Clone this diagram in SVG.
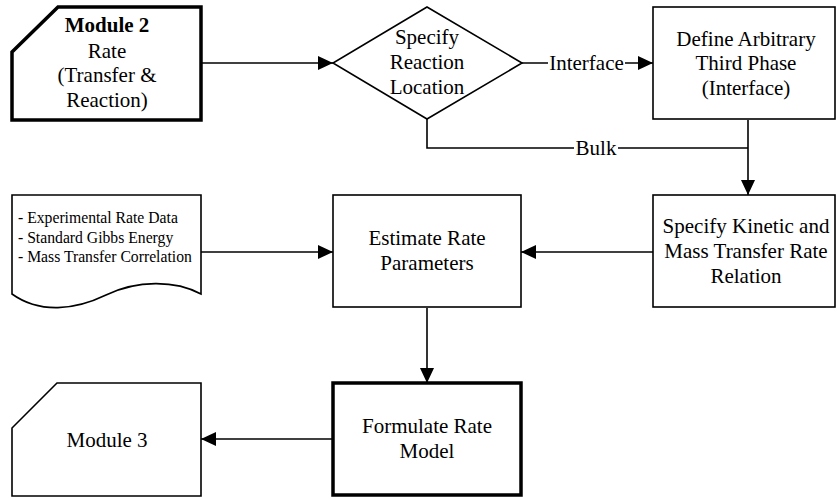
<svg xmlns="http://www.w3.org/2000/svg" width="837" height="499" viewBox="0 0 837 499" font-family="'Liberation Serif', serif">
<style>
.s{fill:#fff;stroke:#000;stroke-width:1.6}
.k{fill:#fff;stroke:#000;stroke-width:3.5}
.c{fill:none;stroke:#000;stroke-width:1.6}
text{font-family:'Liberation Serif',serif;font-size:21px;fill:#000;text-anchor:middle}
.sm{font-size:15.7px;text-anchor:start}
.b{font-weight:bold}
</style>
<defs>
<marker id="ah" markerUnits="userSpaceOnUse" markerWidth="16" markerHeight="14" refX="15" refY="7" orient="auto">
<path d="M0,0 L15,7 L0,14 Z" fill="#000"/>
</marker>
</defs>
<g id="connectors">
<line class="c" x1="201" y1="63" x2="333" y2="63" marker-end="url(#ah)"/>
<line class="c" x1="522" y1="63" x2="653" y2="63" marker-end="url(#ah)"/>
<rect x="548" y="52" width="77" height="22" fill="#fff"/>
<text x="586.5" y="70">Interface</text>
<polyline class="c" points="427,119 427,148 748,148"/>
<rect x="574" y="138" width="44" height="22" fill="#fff"/>
<text x="596" y="155">Bulk</text>
<line class="c" x1="748" y1="120" x2="748" y2="195" marker-end="url(#ah)"/>
<line class="c" x1="653" y1="252" x2="521" y2="252" marker-end="url(#ah)"/>
<line class="c" x1="201" y1="252" x2="333" y2="252" marker-end="url(#ah)"/>
<line class="c" x1="427" y1="308" x2="427" y2="383" marker-end="url(#ah)"/>
<line class="c" x1="333" y1="439" x2="201" y2="439" marker-end="url(#ah)"/>
</g>
<g id="module2">
<path class="k" d="M58,7 H201 V120 H12 V52 Z"/>
<text x="107" y="32" class="b">Module 2</text>
<text x="107" y="58">Rate</text>
<text x="107" y="82">(Transfer &amp;</text>
<text x="107" y="107">Reaction)</text>
</g>
<g id="decision">
<path class="s" d="M427,7 L522,63 L427,119 L333,63 Z"/>
<text x="427" y="44">Specify</text>
<text x="427" y="69">Reaction</text>
<text x="427" y="94">Location</text>
</g>
<g id="define">
<rect class="s" x="653" y="7" width="182" height="112"/>
<text x="746" y="46">Define Arbitrary</text>
<text x="746" y="70">Third Phase</text>
<text x="746" y="95">(Interface)</text>
</g>
<g id="kinetic">
<rect class="s" x="653" y="195" width="182" height="112"/>
<text x="746" y="233">Specify Kinetic and</text>
<text x="746" y="258">Mass Transfer Rate</text>
<text x="746" y="283">Relation</text>
</g>
<g id="estimate">
<rect class="s" x="333" y="195" width="188" height="112"/>
<text x="427" y="245">Estimate Rate</text>
<text x="427" y="270">Parameters</text>
</g>
<g id="data">
<path class="s" d="M12,195 H201 V294 C175,280 137,280 106,295 C75,310 40,314 12,294 Z"/>
<text class="sm" x="18" y="223">- Experimental Rate Data</text>
<text class="sm" x="18" y="243">- Standard Gibbs Energy</text>
<text class="sm" x="18" y="262">- Mass Transfer Correlation</text>
</g>
<g id="formulate">
<rect class="k" x="333" y="383" width="188" height="112"/>
<text x="427" y="433">Formulate Rate</text>
<text x="427" y="458">Model</text>
</g>
<g id="module3">
<path class="s" d="M57,383 H201 V496 H12 V428 Z"/>
<text x="107" y="447">Module 3</text>
</g>
</svg>
